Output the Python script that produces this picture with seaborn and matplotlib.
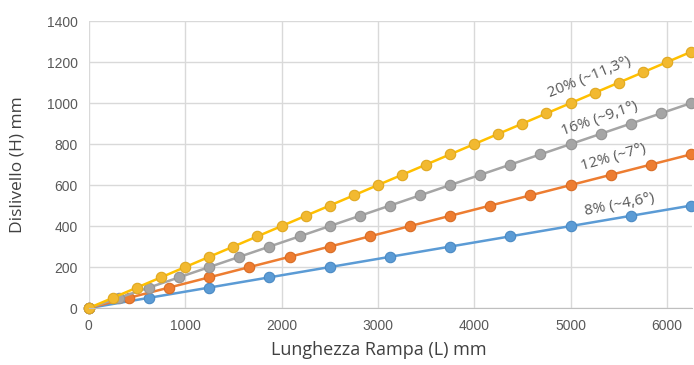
import numpy as np
import pandas as pd
import matplotlib.pyplot as plt
import seaborn as sns

# Lunghezza rampa (L) e dislivello (H) per ogni pendenza
L_8 = [0, 625, 1250, 1875, 2500, 3125, 3750, 4375, 5000, 5625, 6250]
H_8 = [0, 50, 100, 150, 200, 250, 300, 350, 400, 450, 500]

L_12 = [0, 416.7, 833.3, 1250, 1666.7, 2083.3, 2500, 2916.7, 3333.3, 3750,
        4166.7, 4583.3, 5000, 5416.7, 5833.3, 6250]
H_12 = [0, 50, 100, 150, 200, 250, 300, 350, 400, 450, 500, 550, 600, 650, 700, 750]

L_16 = [0, 312.5, 625, 937.5, 1250, 1562.5, 1875, 2187.5, 2500, 2812.5, 3125,
        3437.5, 3750, 4062.5, 4375, 4687.5, 5000, 5312.5, 5625, 5937.5, 6250]
H_16 = [0, 50, 100, 150, 200, 250, 300, 350, 400, 450, 500, 550, 600, 650, 700,
        750, 800, 850, 900, 950, 1000]

L_20 = [0, 250, 500, 750, 1000, 1250, 1500, 1750, 2000, 2250, 2500, 2750, 3000,
        3250, 3500, 3750, 4000, 4250, 4500, 4750, 5000, 5250, 5500, 5750, 6000, 6250]
H_20 = [0, 50, 100, 150, 200, 250, 300, 350, 400, 450, 500, 550, 600, 650, 700,
        750, 800, 850, 900, 950, 1000, 1050, 1100, 1150, 1200, 1250]

series = ['8% (~4,6°)', '12% (~7°)', '16% (~9,1°)', '20% (~11,3°)']
colors = ['#5B9BD5', '#ED7D31', '#A5A5A5', '#FFC000']
fills = ['#5B9BD5', '#ED7D31', '#A5A5A5', '#F2B930']
edges = ['#4A8AC4', '#D86C25', '#949494', '#E0A820']
label_x = [5510, 5440, 5300, 5200]
label_y = [505, 735, 925, 1125]
label_rot = [11, 16, 19, 22]

df = pd.concat([
    pd.DataFrame({'L': L, 'H': H, 'serie': s})
    for L, H, s in zip([L_8, L_12, L_16, L_20], [H_8, H_12, H_16, H_20], series)
])

sns.set_style('white')
plt.rcParams['font.family'] = ['Liberation Sans', 'DejaVu Sans']

fig = plt.figure(figsize=(6.94, 3.65), dpi=100)
ax = fig.add_axes([0.128, 0.156, 0.869, 0.786])

for s, c, f, e in zip(series, colors, fills, edges):
    sns.lineplot(data=df[df.serie == s], x='L', y='H', ax=ax, color=c,
                 linewidth=1.8, marker='o', markersize=7.5,
                 markerfacecolor=f, markeredgecolor=e, markeredgewidth=0.8,
                 estimator=None, sort=False, clip_on=False)

for s, x, y, r in zip(series, label_x, label_y, label_rot):
    ax.text(x, y, s, rotation=r, ha='center', va='center', fontsize=11,
            color='#595959', family=['Open Sans', 'DejaVu Sans'])

ax.set_xlim(0, 6260)
ax.set_ylim(0, 1400)
ax.set_xticks(range(0, 7000, 1000))
ax.set_yticks(range(0, 1600, 200))
ax.grid(True, color='#D9D9D9', linewidth=1)
ax.set_axisbelow(True)
for sp in ['top', 'right', 'left']:
    ax.spines[sp].set_visible(False)
ax.spines['bottom'].set_color('#BFBFBF')
ax.tick_params(axis='both', length=0, labelsize=10, labelcolor='#595959', pad=8)

ax.set_xlabel('Lunghezza Rampa (L) mm', fontsize=13, color='#404040',
              family=['Open Sans', 'DejaVu Sans'])
ax.set_ylabel('Dislivello (H) mm', fontsize=12.5, color='#404040',
              family=['Open Sans', 'DejaVu Sans'])
ax.xaxis.set_label_coords(0.481, -0.115)
ax.yaxis.set_label_coords(-0.105, 0.5)
ax.legend_ = None

plt.savefig('out.png', dpi=100)
